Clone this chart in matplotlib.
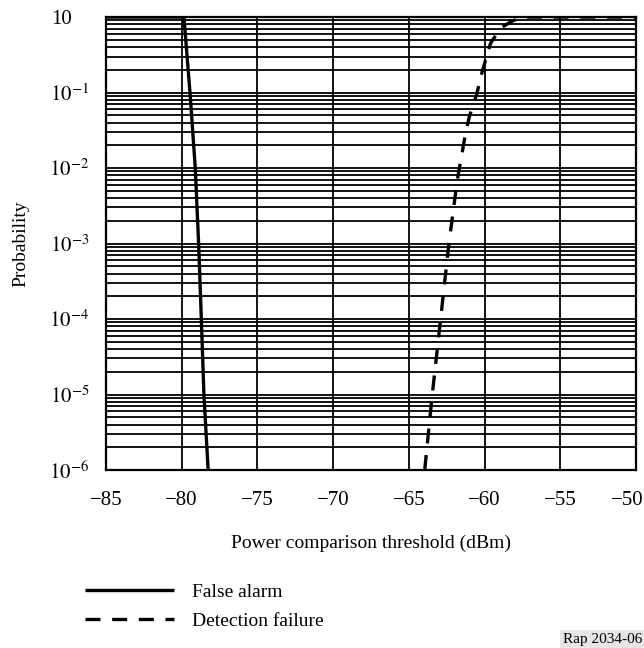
import matplotlib
matplotlib.use("Agg")
import matplotlib.pyplot as plt
import matplotlib.transforms as mtransforms
from matplotlib.ticker import LogLocator, NullFormatter

plt.rcParams['font.family'] = ['Liberation Serif', 'DejaVu Serif']
plt.rcParams['mathtext.fontset'] = 'stix'

# false alarm curve (threshold dBm, probability)
fa_x = [-85.0, -79.85, -79.45, -79.1, -78.88, -78.7, -78.53, -78.25]
fa_y = [1.0, 1.0, 1e-1, 1e-2, 1e-3, 1e-4, 1e-5, 1e-6]

# detection failure curve
df_x = [-63.95, -63.45, -62.9, -62.35, -61.8, -61.25, -61.0, -60.5, -60.15,
        -59.6, -58.95, -58.2, -57.5, -50.0]
df_y = [1e-6, 1e-5, 1e-4, 1e-3, 6.9e-3, 2.9e-2, 4.8e-2, 9.8e-2, 0.19,
        0.45, 0.71, 0.88, 1.0, 1.0]

xticks = [-85, -80, -75, -70, -65, -60, -55, -50]
yticks = [1e-6, 1e-5, 1e-4, 1e-3, 1e-2, 1e-1, 1.0]
ylabels = [r'$10^{-6}$', r'$10^{-5}$', r'$10^{-4}$', r'$10^{-3}$',
           r'$10^{-2}$', r'$10^{-1}$', '10']

fig = plt.figure(figsize=(6.44, 6.48), dpi=100)
ax = fig.add_axes([0.1645, 0.2747, 0.823, 0.699])

ax.set_yscale('log')
ax.set_xlim(-85, -50)
ax.set_ylim(1e-6, 1.0)

ax.set_xticks(xticks)
ax.set_yticks(yticks)
ax.set_yticklabels(ylabels)
ax.yaxis.set_minor_locator(LogLocator(base=10, subs=range(2, 10)))
ax.yaxis.set_minor_formatter(NullFormatter())
ax.tick_params(which='both', length=0, labelsize=15)
ax.tick_params(axis='y', pad=12)
ax.tick_params(axis='x', pad=15)

# last x label sits inside the figure edge, top y label lines up with the others
last = ax.get_xticklabels()[-1]
last.set_transform(last.get_transform() +
                   mtransforms.ScaledTranslation(-0.09, 0, fig.dpi_scale_trans))
top = ax.get_yticklabels()[-1]
top.set_transform(top.get_transform() +
                  mtransforms.ScaledTranslation(-0.17, 0, fig.dpi_scale_trans))

ax.grid(True, which='major', axis='both', color='black', linewidth=1.3)
ax.grid(True, which='minor', axis='y', color='black', linewidth=1.3)
ax.set_axisbelow(True)
for s in ax.spines.values():
    s.set_linewidth(1.6)

l1, = ax.plot(fa_x, fa_y, color='black', linewidth=2.4, solid_capstyle='butt',
              label='False alarm')
l2, = ax.plot(df_x, df_y, color='black', linewidth=2.4, dashes=(4.5, 3.5),
              label='Detection failure')

ax.set_ylabel('Probability', fontsize=14, labelpad=14)
ax.set_xlabel('Power comparison threshold (dBm)', fontsize=14, labelpad=18)

fig.legend(handles=[l1, l2], loc='upper left', bbox_to_anchor=(0.132, 0.1),
           frameon=False, fontsize=14, handlelength=4.6, handletextpad=0.9,
           labelspacing=0.6, borderpad=0, borderaxespad=0)

fig.text(0.997, 0.003, 'Rap 2034-06', fontsize=11, ha='right', va='bottom',
         bbox=dict(facecolor='#e6e6e6', edgecolor='none', pad=2))

fig.savefig('out.png', dpi=100)
